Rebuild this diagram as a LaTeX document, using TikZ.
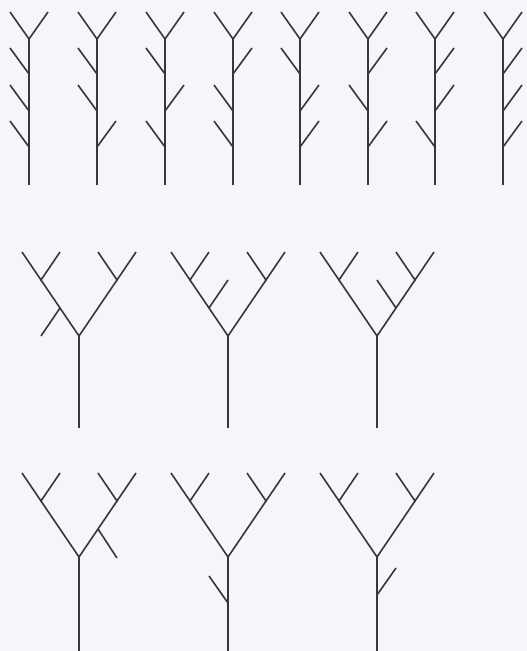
\documentclass[tikz,border=0pt]{standalone}
\definecolor{bgcol}{RGB}{244,246,251}
\definecolor{inkcol}{RGB}{55,55,58}
\tikzset{branch/.style={line width=1.6pt, draw=inkcol, line cap=butt, line join=miter}}
\begin{document}
\begin{tikzpicture}[x=1pt,y=-1pt]
\fill[bgcol] (0,0) rectangle (527,651);
\useasboundingbox (0,0) rectangle (527,651);
% ---- top row: eight stems with a fork and three side branches
\foreach \x/\a/\b/\c [count=\i] in {29/-1/-1/-1, 97/-1/-1/1, 165/-1/1/-1, 233/1/-1/-1, 300/-1/1/1, 368/1/-1/1, 435/1/1/-1, 503/1/1/1}{
  \coordinate (t\i-base) at (\x,185);
  \coordinate (t\i-top) at (\x,39);
  \coordinate (t\i-l) at (\x-19,12);
  \coordinate (t\i-r) at (\x+19,12);
  \coordinate (t\i-j1) at (\x,74);
  \coordinate (t\i-j2) at (\x,111);
  \coordinate (t\i-j3) at (\x,147);
  \coordinate (t\i-e1) at (\x+\a*19,48);
  \coordinate (t\i-e2) at (\x+\b*19,85);
  \coordinate (t\i-e3) at (\x+\c*19,121);
  \draw[branch] (t\i-base) -- (t\i-top);
  \draw[branch] (t\i-l) -- (t\i-top) -- (t\i-r);
  \draw[branch] (t\i-j1) -- (t\i-e1);
  \draw[branch] (t\i-j2) -- (t\i-e2);
  \draw[branch] (t\i-j3) -- (t\i-e3);
}
% ---- lower rows: Y-shaped trees
\foreach \x/\f/\b/\n in {79/336/428/A, 228/336/428/B, 377/336/428/C, 79/557/651/D, 228/557/651/E, 377/557/651/F}{
  \coordinate (\n-base) at (\x,\b);
  \coordinate (\n-fork) at (\x,\f);
  \coordinate (\n-lf) at (\x-38,\f-56);
  \coordinate (\n-rf) at (\x+38,\f-56);
  \coordinate (\n-lf1) at (\x-57,\f-84);
  \coordinate (\n-lf2) at (\x-19,\f-84);
  \coordinate (\n-rf1) at (\x+19,\f-84);
  \coordinate (\n-rf2) at (\x+57,\f-84);
  \coordinate (\n-lm) at (\x-19,\f-28);
  \coordinate (\n-rm) at (\x+19,\f-28);
  \draw[branch] (\n-base) -- (\n-fork);
  \draw[branch] (\n-lf) -- (\n-fork) -- (\n-rf);
  \draw[branch] (\n-lf1) -- (\n-lf) -- (\n-lf2);
  \draw[branch] (\n-rf1) -- (\n-rf) -- (\n-rf2);
}
% extra branches
\coordinate (A-x) at (41,336);
\draw[branch] (A-lm) -- (A-x);
\coordinate (B-x) at (228,280);
\draw[branch] (B-lm) -- (B-x);
\coordinate (C-x) at (377,280);
\draw[branch] (C-rm) -- (C-x);
\coordinate (D-x) at (117,558);
\draw[branch] (D-rm) -- (D-x);
\coordinate (E-j) at (228,603);
\coordinate (E-x) at (209,576);
\draw[branch] (E-j) -- (E-x);
\coordinate (F-j) at (377,595);
\coordinate (F-x) at (396,568);
\draw[branch] (F-j) -- (F-x);
\end{tikzpicture}
\end{document}
